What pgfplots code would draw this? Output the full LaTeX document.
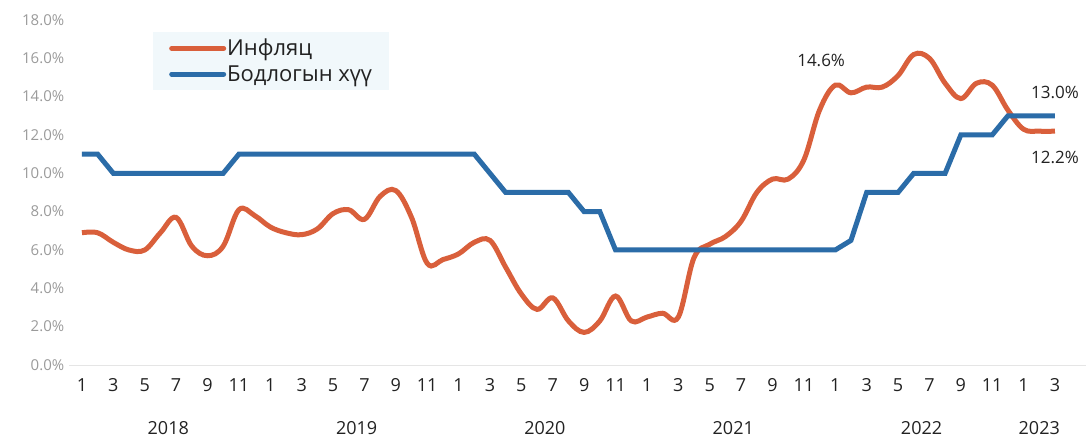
\documentclass[border=0pt]{standalone}
\usepackage{fontspec}
\setmainfont{Open Sans}
\usepackage{pgfplots}
\pgfplotsset{compat=1.18}
\definecolor{infl}{HTML}{D95F3B}
\definecolor{rate}{HTML}{2B6CA8}
\definecolor{ylab}{HTML}{9A9A9A}
\definecolor{txt}{HTML}{222222}
\definecolor{legbg}{HTML}{F1F8FB}

\begin{document}
\begin{tikzpicture}
\useasboundingbox (-69.4pt,-74pt) rectangle (1017.6pt,365pt);
\begin{axis}[
  scale only axis, width=1017pt, height=345pt,
  xmin=-0.8, xmax=64, ymin=0, ymax=18,
  axis lines*=left,
  axis line style={-},
  y axis line style={draw=none},
  x axis line style={draw=black!10, line width=1pt},
  major tick length=0pt, tick style={draw=none},
  /pgf/number format/assume math mode=true,
  ytick={0,2,...,18},
  yticklabel={\pgfmathprintnumber[fixed,fixed zerofill,precision=1]{\tick}\%},
  yticklabel style={font=\fontsize{15}{15}\selectfont, text=ylab, inner xsep=2pt, xshift=-3pt},
  xtick={0,2,...,62},
  xticklabels={1,3,5,7,9,11,1,3,5,7,9,11,1,3,5,7,9,11,1,3,5,7,9,11,1,3,5,7,9,11,1,3},
  xticklabel style={font=\fontsize{18}{18}\selectfont, text=txt, yshift=-10pt},
  extra x ticks={5.5,17.5,29.5,41.5,53.5,61},
  extra x tick labels={2018,2019,2020,2021,2022,2023},
  extra x tick style={tick label style={yshift=-43pt}},
  clip=false,
  legend style={at={(0.0822,0.965)}, anchor=north west, fill=legbg, draw=none,
    font=\fontsize{22}{22}\selectfont, text=txt, inner xsep=16pt, inner ysep=5pt,
    row sep=4pt, nodes={inner xsep=1pt}},
  legend cell align=left,
  legend image code/.code={\draw[#1, line width=5pt, line cap=round] (0pt,0pt) -- (52pt,0pt);},
]
\addplot[infl, line width=5pt, smooth, tension=0.6] coordinates {
(0,6.9) (1,6.9) (2,6.4) (3,6.0) (4,6.0) (5,6.9) (6,7.7) (7,6.2) (8,5.7) (9,6.2)
(10,8.1) (11,7.8) (12,7.2) (13,6.9) (14,6.8) (15,7.1) (16,7.9) (17,8.1) (18,7.6) (19,8.8)
(20,9.1) (21,7.7) (22,5.3) (23,5.5) (24,5.8) (25,6.4) (26,6.5) (27,5.1) (28,3.7) (29,2.9)
(30,3.5) (31,2.3) (32,1.7) (33,2.3) (34,3.6) (35,2.3) (36,2.5) (37,2.7) (38,2.5) (39,5.6)
(40,6.3) (41,6.7) (42,7.5) (43,9.0) (44,9.7) (45,9.7) (46,10.7) (47,13.3) (48,14.6) (49,14.2)
(50,14.5) (51,14.5) (52,15.1) (53,16.2) (54,16.0) (55,14.7) (56,13.9) (57,14.7) (58,14.6) (59,13.3)
(60,12.3) (61,12.2) (62,12.2)
};
\addlegendentry{Инфляц}
\addplot[rate, line width=5pt] coordinates {
(0,11) (1,11) (2,10) (9,10) (10,11) (25,11) (26,10) (27,9) (31,9) (32,8) (33,8) (34,6)
(48,6) (49,6.5) (50,9) (52,9) (53,10) (55,10) (56,12) (58,12) (59,13) (62,13)
};
\addlegendentry{Бодлогын хүү}
\node[font=\fontsize{17}{17}\selectfont, text=txt] at (axis cs:47.1,15.9) {14.6\%};
\node[font=\fontsize{17}{17}\selectfont, text=txt] at (axis cs:62,14.2) {13.0\%};
\node[font=\fontsize{17}{17}\selectfont, text=txt] at (axis cs:62,10.85) {12.2\%};
\end{axis}
\end{tikzpicture}
\end{document}
